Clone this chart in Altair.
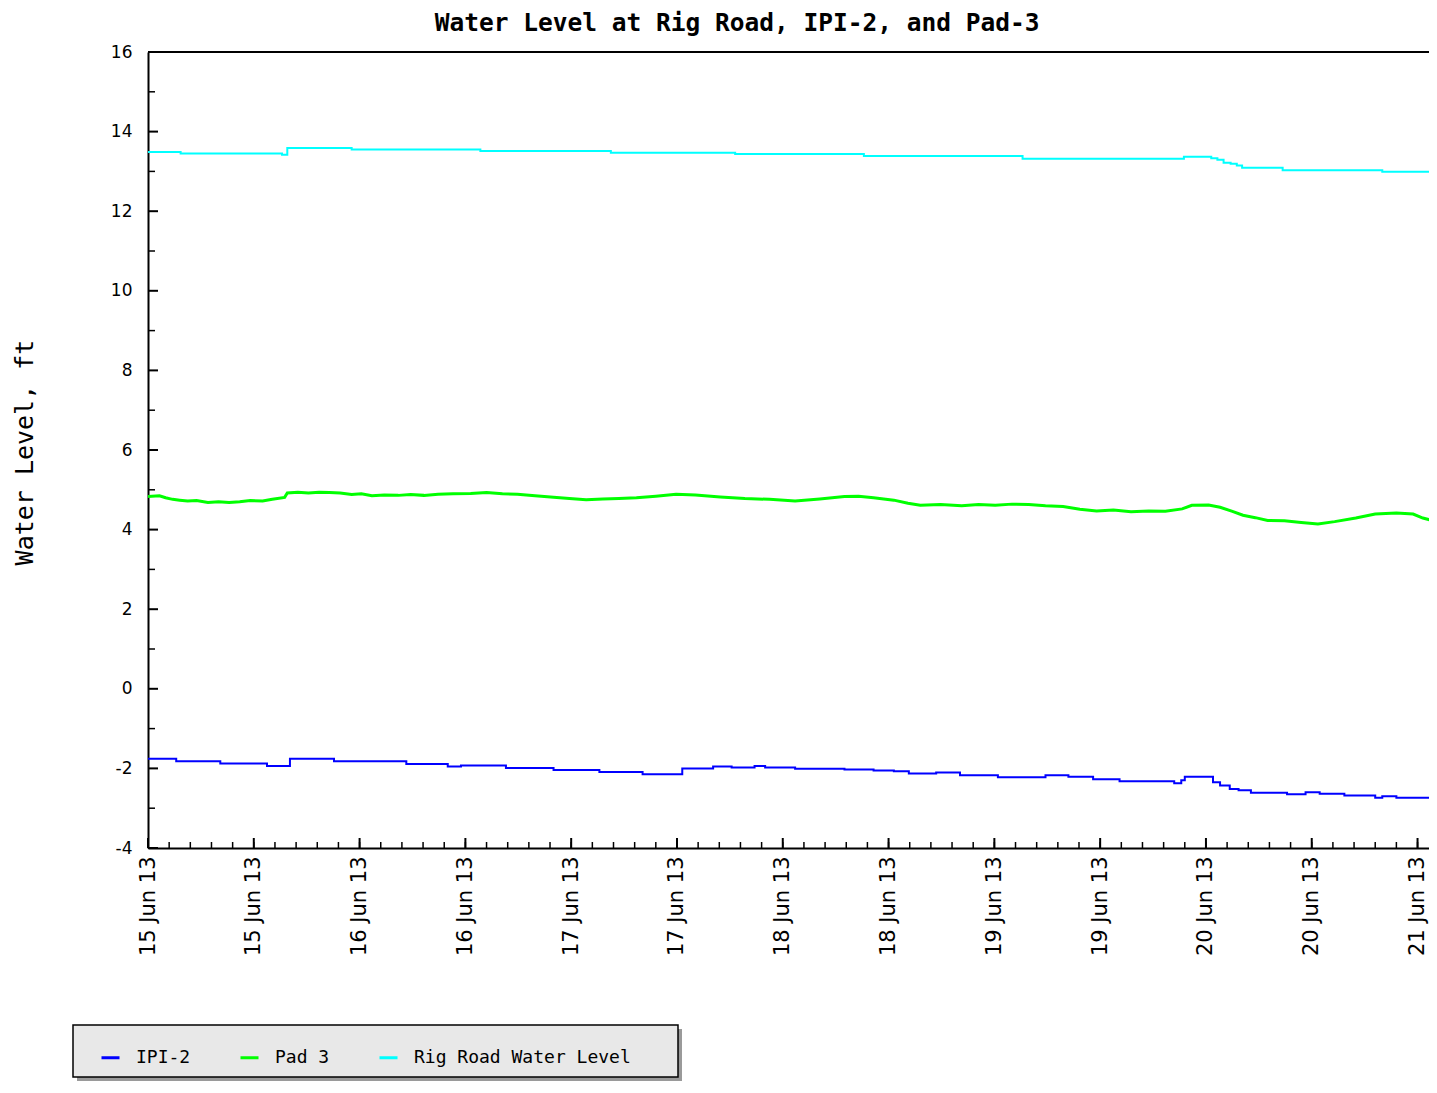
import altair as alt
import pandas as pd

START = pd.Timestamp("2013-06-15 00:00:00")

# ---- data (hours after 15 Jun 2013 00:00, feet) ----
rig_hours = [0, 3.7, 15.2, 15.8, 23.1, 37.7, 52.5, 66.6, 81.2, 99.2,
             117.5, 120.6, 121.3, 122.0, 122.8, 123.5, 124.1, 128.7, 140.0, 145.5]
rig_level = [13.49, 13.45, 13.42, 13.59, 13.55, 13.51, 13.47, 13.44, 13.39, 13.32,
             13.37, 13.33, 13.29, 13.22, 13.19, 13.15, 13.09, 13.03, 12.99, 12.99]

ipi_hours = [0, 3.2, 8.2, 13.5, 16.1, 21.1, 29.3, 34.0, 35.5, 40.6,
             46.0, 51.2, 56.1, 60.6, 64.1, 66.2, 68.8, 70.0, 73.4, 79.0,
             82.3, 84.6, 86.3, 89.4, 92.1, 96.4, 101.8, 104.4, 107.2, 110.2,
             116.4, 117.2, 117.6, 120.8, 121.6, 122.7, 123.7, 125.1, 129.2, 131.3,
             132.9, 135.7, 139.2, 140.0, 141.6, 145.5]
ipi_level = [-1.76, -1.82, -1.88, -1.94, -1.76, -1.82, -1.89, -1.95, -1.93, -1.99,
             -2.04, -2.09, -2.15, -2.00, -1.95, -1.98, -1.94, -1.98, -2.01, -2.03,
             -2.05, -2.07, -2.13, -2.10, -2.17, -2.22, -2.17, -2.21, -2.27, -2.32,
             -2.37, -2.30, -2.21, -2.35, -2.43, -2.52, -2.55, -2.61, -2.65, -2.60,
             -2.64, -2.68, -2.74, -2.70, -2.74, -2.74]

pad_hours = [0, 1.3, 2.0, 2.8, 3.6, 4.5, 5.5, 6.8, 8.0, 9.2,
             10.4, 11.6, 13.0, 14.1, 15.5, 15.8, 17.0, 18.2, 19.4, 20.6,
             21.8, 23.1, 24.2, 25.4, 26.8, 28.4, 29.8, 31.3, 32.9, 34.6,
             36.6, 38.4, 40.2, 41.9, 43.9, 46.0, 47.8, 49.7, 51.6, 53.4,
             55.4, 57.6, 59.9, 62.1, 64.9, 67.7, 70.5, 73.4, 76.2, 79.0,
             80.6, 82.3, 84.6, 86.2, 87.6, 89.9, 92.3, 94.2, 96.1, 98.0,
             99.9, 101.8, 103.8, 105.7, 107.6, 109.5, 111.5, 113.5, 115.4, 117.3,
             118.4, 120.3, 121.6, 123.0, 124.2, 125.6, 127.0, 128.9, 130.8, 132.7,
             134.6, 137.0, 139.2, 141.6, 143.5, 144.6, 145.5]
pad_level = [4.83, 4.85, 4.80, 4.76, 4.74, 4.72, 4.73, 4.68, 4.70, 4.68,
             4.70, 4.73, 4.72, 4.76, 4.81, 4.92, 4.94, 4.92, 4.94, 4.93,
             4.92, 4.88, 4.90, 4.85, 4.87, 4.86, 4.88, 4.86, 4.89, 4.90,
             4.91, 4.93, 4.90, 4.89, 4.85, 4.81, 4.78, 4.75, 4.77, 4.78,
             4.80, 4.84, 4.89, 4.87, 4.82, 4.78, 4.76, 4.72, 4.77, 4.83,
             4.84, 4.80, 4.74, 4.66, 4.61, 4.63, 4.60, 4.63, 4.61, 4.64,
             4.63, 4.60, 4.58, 4.51, 4.47, 4.49, 4.45, 4.47, 4.46, 4.52,
             4.61, 4.62, 4.56, 4.46, 4.36, 4.30, 4.23, 4.22, 4.18, 4.14,
             4.20, 4.29, 4.39, 4.42, 4.39, 4.29, 4.24]

series_names = ["IPI-2", "Pad 3", "Rig Road Water Level"]
series_colors = ["#0000ff", "#00ff00", "#00ffff"]
title_text = "Water Level at Rig Road, IPI-2, and Pad-3"

x_label_hours = [12 * i for i in range(13)]      # labelled ticks every 12 h
x_minor_hours = [2.4 * i for i in range(61)]     # small ticks
y_major = list(range(-4, 17, 2))
y_minor = list(range(-3, 16, 2))


def frame(hours, levels, name):
    return pd.DataFrame({
        "time": START + pd.to_timedelta(hours, unit="h"),
        "level": levels,
        "series": name,
    })


ipi_df = frame(ipi_hours, ipi_level, "IPI-2")
pad_df = frame(pad_hours, pad_level, "Pad 3")
rig_df = frame(rig_hours, rig_level, "Rig Road Water Level")

W, H = 1281, 796

x_values = [alt.DateTime(year=2013, month=6, date=15 + h // 24, hours=h % 24) for h in x_label_hours]
x_scale = alt.Scale(domain=[alt.DateTime(year=2013, month=6, date=15, hours=0),
                            alt.DateTime(year=2013, month=6, date=21, hours=1, minutes=18)],
                    nice=False)
x_enc = alt.X("time:T", scale=x_scale,
              axis=alt.Axis(values=x_values, format="%d %b %y", labelAngle=270,
                            ticks=False, tickSize=0, grid=False,
                            domainColor="black", domainWidth=2,
                            labelFont="DejaVu Sans", labelFontSize=21,
                            labelColor="black", labelPadding=8, title=None,
                            labelOverlap=False, labelFlush=False))
y_enc = alt.Y("level:Q", scale=alt.Scale(domain=[-4, 16], nice=False, zero=False),
              axis=alt.Axis(values=y_major, ticks=False, tickSize=0, grid=False,
                            domainColor="black", domainWidth=2,
                            labelFont="DejaVu Sans", labelFontSize=17,
                            labelColor="black", labelPadding=16,
                            labelExpr="datum.value + ''",
                            title="Water Level, ft", titleFont="DejaVu Sans Mono",
                            titleFontSize=25, titleFontWeight="normal",
                            titleColor="black", titleAngle=270, titleX=-116,
                            titleY=400, titleBaseline="alphabetic", titleAlign="center"))

color_enc = alt.Color("series:N",
                      scale=alt.Scale(domain=series_names, range=series_colors),
                      legend=alt.Legend(orient="none", legendX=-48, legendY=995,
                                        direction="horizontal", title=None,
                                        symbolType="stroke", symbolSize=324,
                                        symbolStrokeWidth=3,
                                        labelFont="DejaVu Sans Mono", labelFontSize=18,
                                        labelColor="black", labelOffset=15,
                                        labelLimit=400,
                                        columnPadding=43, padding=0))

one = pd.DataFrame({"k": [0]})

shadow = alt.Chart(one).mark_rect(fill="#9a9a9a").encode(
    x=alt.value(-71), x2=alt.value(534), y=alt.value(977), y2=alt.value(1029))
box = alt.Chart(one).mark_rect(fill="#e8e8e8", stroke="black", strokeWidth=1.5).encode(
    x=alt.value(-75), x2=alt.value(530), y=alt.value(973), y2=alt.value(1025))

title_mark = alt.Chart(one).mark_text(
    text=title_text, font="DejaVu Sans Mono", fontSize=24.5, fontWeight="bold",
    color="black", align="center", baseline="alphabetic").encode(
    x=alt.value(589), y=alt.value(-21))

xt_minor = alt.Chart(pd.DataFrame({"time": START + pd.to_timedelta(x_minor_hours, unit="h")})).mark_rule(
    color="black", strokeWidth=1.5).encode(x=x_enc, y=alt.value(H), y2=alt.value(H - 6))
xt_major = alt.Chart(pd.DataFrame({"time": START + pd.to_timedelta(x_label_hours, unit="h")})).mark_rule(
    color="black", strokeWidth=2).encode(x=x_enc, y=alt.value(H), y2=alt.value(H - 10))
yt_minor = alt.Chart(pd.DataFrame({"level": y_minor})).mark_rule(
    color="black", strokeWidth=1.5).encode(y=y_enc, x=alt.value(0), x2=alt.value(7))
yt_major = alt.Chart(pd.DataFrame({"level": y_major})).mark_rule(
    color="black", strokeWidth=2).encode(y=y_enc, x=alt.value(0), x2=alt.value(10))
top_border = alt.Chart(one).mark_rule(color="black", strokeWidth=2).encode(
    x=alt.value(0), x2=alt.value(W), y=alt.value(0))

rig_line = alt.Chart(rig_df).mark_line(interpolate="step-after", strokeWidth=2, clip=True).encode(
    x=x_enc, y=y_enc, color=color_enc)
pad_line = alt.Chart(pad_df).mark_line(strokeWidth=3, clip=True).encode(
    x=x_enc, y=y_enc, color=color_enc)
ipi_line = alt.Chart(ipi_df).mark_line(interpolate="step-after", strokeWidth=2, clip=True).encode(
    x=x_enc, y=y_enc, color=color_enc)

chart = alt.layer(
    shadow, box, title_mark, xt_minor, xt_major, yt_minor, yt_major, top_border,
    rig_line, pad_line, ipi_line,
).properties(
    width=W, height=H,
    autosize=alt.AutoSizeParams(type="none"),
    padding={"left": 140, "top": 44, "right": 0, "bottom": 233},
).configure_view(stroke=None).configure(background="white")

chart.save("out.html", embed_options={"renderer": "svg", "actions": False})
